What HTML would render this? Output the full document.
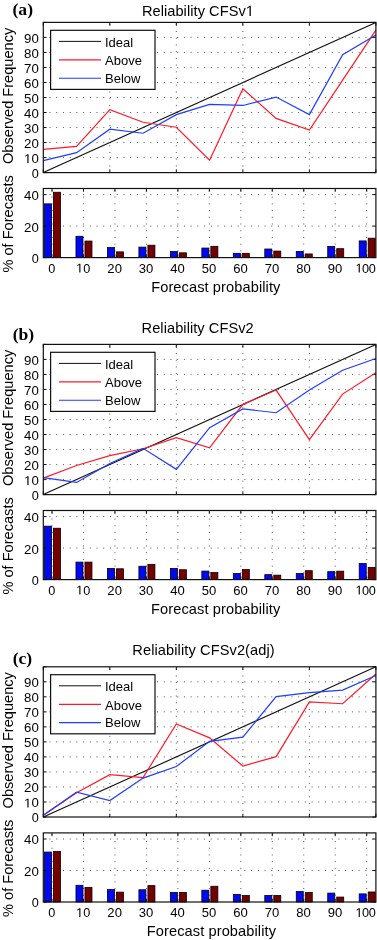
<!DOCTYPE html>
<html><head><meta charset="utf-8"><style>
html,body{margin:0;padding:0;background:#fff;}
svg{display:block;will-change:transform;}
text{font-family:"Liberation Sans",sans-serif;fill:#000;}
.o{fill:transparent;}
.pl{font-family:"Liberation Serif",serif;font-weight:bold;}
</style></head><body>
<svg width="377" height="940" viewBox="0 0 377 940">
<rect width="377" height="940" fill="#fff"/>
<text x="12.53" y="15.3" class="pl" font-size="17.6">(a)</text>
<text id="t1" x="141.9" y="15.9" font-size="14.6" letter-spacing="0.06">Reliability CFSv<tspan class="o">1</tspan></text>
<path d="M43.3 157.58H375.9 M43.3 142.56H375.9 M43.3 127.54H375.9 M43.3 112.52H375.9 M43.3 97.5H375.9 M43.3 82.48H375.9 M43.3 67.46H375.9 M43.3 52.44H375.9 M43.3 37.42H375.9 M109.82 172.6V22.4 M176.34 172.6V22.4 M242.86 172.6V22.4 M309.38 172.6V22.4" stroke="#555" stroke-width="1.0" stroke-dasharray="1 5.72" stroke-dashoffset="0.5" fill="none"/>
<path d="M43.3 172.6h3.3M375.9 172.6h-3.3M43.3 157.58h3.3M375.9 157.58h-3.3M43.3 142.56h3.3M375.9 142.56h-3.3M43.3 127.54h3.3M375.9 127.54h-3.3M43.3 112.52h3.3M375.9 112.52h-3.3M43.3 97.5h3.3M375.9 97.5h-3.3M43.3 82.48h3.3M375.9 82.48h-3.3M43.3 67.46h3.3M375.9 67.46h-3.3M43.3 52.44h3.3M375.9 52.44h-3.3M43.3 37.42h3.3M375.9 37.42h-3.3M43.3 22.4h3.3M375.9 22.4h-3.3M43.3 172.6v-3.3M43.3 22.4v3.3M109.82 172.6v-3.3M109.82 22.4v3.3M176.34 172.6v-3.3M176.34 22.4v3.3M242.86 172.6v-3.3M242.86 22.4v3.3M309.38 172.6v-3.3M309.38 22.4v3.3M375.9 172.6v-3.3M375.9 22.4v3.3" stroke="#111" stroke-width="1" fill="none"/>
<polyline points="43.3,172.6 375.9,22.4" stroke="#111" stroke-width="1.15" fill="none"/>
<polyline points="43.3,149.32 76.56,146.31 109.82,109.67 143.08,122.28 176.34,127.24 209.6,160.13 242.86,88.79 276.12,118.38 309.38,130.09 342.64,80.08 375.9,30.06" stroke="#ff1a2a" stroke-width="1.2" fill="none" stroke-linejoin="miter"/>
<polyline points="43.3,160.58 76.56,152.62 109.82,129.19 143.08,133.25 176.34,114.62 209.6,104.41 242.86,105.46 276.12,97.05 309.38,114.62 342.64,54.69 375.9,35.02" stroke="#1f3dff" stroke-width="1.2" fill="none"/>
<rect x="43.3" y="22.4" width="332.6" height="150.2" fill="none" stroke="#111" stroke-width="1.2"/>
<text x="38.8" y="178" font-size="12.7" text-anchor="end">0</text>
<text id="t2" x="24.04" y="162.98" font-size="12.7" textLength="14.76" lengthAdjust="spacingAndGlyphs"><tspan class="o">1</tspan>0</text>
<text x="24.04" y="147.96" font-size="12.7" textLength="14.76" lengthAdjust="spacingAndGlyphs">20</text>
<text x="24.04" y="132.94" font-size="12.7" textLength="14.76" lengthAdjust="spacingAndGlyphs">30</text>
<text x="24.04" y="117.92" font-size="12.7" textLength="14.76" lengthAdjust="spacingAndGlyphs">40</text>
<text x="24.04" y="102.9" font-size="12.7" textLength="14.76" lengthAdjust="spacingAndGlyphs">50</text>
<text x="24.04" y="87.88" font-size="12.7" textLength="14.76" lengthAdjust="spacingAndGlyphs">60</text>
<text x="24.04" y="72.86" font-size="12.7" textLength="14.76" lengthAdjust="spacingAndGlyphs">70</text>
<text x="24.04" y="57.84" font-size="12.7" textLength="14.76" lengthAdjust="spacingAndGlyphs">80</text>
<text x="24.04" y="42.82" font-size="12.7" textLength="14.76" lengthAdjust="spacingAndGlyphs">90</text>
<rect x="50.6" y="30.3" width="104.4" height="59.1" fill="#fff" stroke="#111" stroke-width="1.2"/>
<path d="M59 41.4H101" stroke="#111" stroke-width="1.0"/>
<text x="105" y="46.7" font-size="13.0">Ideal</text>
<path d="M59 59.9H101" stroke="#ff1a2a" stroke-width="1.3"/>
<text x="105" y="65.2" font-size="13.0">Above</text>
<path d="M59 78.2H101" stroke="#1f3dff" stroke-width="1.1"/>
<text x="105" y="83" font-size="13.0">Below</text>
<text transform="translate(12.8 95.85) rotate(-90)" text-anchor="middle" font-size="14.6">Observed Frequency</text>
<path d="M43.3 226.1H375.9 M43.3 194.6H375.9 M52 257.6V188.5 M83.47 257.6V188.5 M114.94 257.6V188.5 M146.41 257.6V188.5 M177.88 257.6V188.5 M209.35 257.6V188.5 M240.82 257.6V188.5 M272.29 257.6V188.5 M303.76 257.6V188.5 M335.23 257.6V188.5 M366.7 257.6V188.5" stroke="#555" stroke-width="1.0" stroke-dasharray="1 5.72" stroke-dashoffset="0.5" fill="none"/>
<rect x="44.5" y="203.86" width="7" height="53.74" fill="#0008f5" stroke="#000" stroke-width="0.8"/>
<rect x="53.5" y="192.25" width="7" height="65.35" fill="#760000" stroke="#000" stroke-width="0.8"/>
<rect x="75.97" y="236.29" width="7" height="21.31" fill="#0008f5" stroke="#000" stroke-width="0.8"/>
<rect x="84.97" y="241.06" width="7" height="16.54" fill="#760000" stroke="#000" stroke-width="0.8"/>
<rect x="107.44" y="247.58" width="7" height="10.02" fill="#0008f5" stroke="#000" stroke-width="0.8"/>
<rect x="116.44" y="251.88" width="7" height="5.72" fill="#760000" stroke="#000" stroke-width="0.8"/>
<rect x="138.91" y="247.11" width="7" height="10.49" fill="#0008f5" stroke="#000" stroke-width="0.8"/>
<rect x="147.91" y="245.2" width="7" height="12.4" fill="#760000" stroke="#000" stroke-width="0.8"/>
<rect x="170.38" y="251.56" width="7" height="6.04" fill="#0008f5" stroke="#000" stroke-width="0.8"/>
<rect x="179.38" y="252.83" width="7" height="4.77" fill="#760000" stroke="#000" stroke-width="0.8"/>
<rect x="201.85" y="248.06" width="7" height="9.54" fill="#0008f5" stroke="#000" stroke-width="0.8"/>
<rect x="210.85" y="246.31" width="7" height="11.29" fill="#760000" stroke="#000" stroke-width="0.8"/>
<rect x="233.32" y="253.31" width="7" height="4.29" fill="#0008f5" stroke="#000" stroke-width="0.8"/>
<rect x="242.32" y="253.31" width="7" height="4.29" fill="#760000" stroke="#000" stroke-width="0.8"/>
<rect x="264.79" y="249.01" width="7" height="8.59" fill="#0008f5" stroke="#000" stroke-width="0.8"/>
<rect x="273.79" y="251.08" width="7" height="6.52" fill="#760000" stroke="#000" stroke-width="0.8"/>
<rect x="296.26" y="251.4" width="7" height="6.2" fill="#0008f5" stroke="#000" stroke-width="0.8"/>
<rect x="305.26" y="253.94" width="7" height="3.66" fill="#760000" stroke="#000" stroke-width="0.8"/>
<rect x="327.73" y="246.47" width="7" height="11.13" fill="#0008f5" stroke="#000" stroke-width="0.8"/>
<rect x="336.73" y="248.7" width="7" height="8.9" fill="#760000" stroke="#000" stroke-width="0.8"/>
<rect x="359.2" y="240.91" width="7" height="16.69" fill="#0008f5" stroke="#000" stroke-width="0.8"/>
<rect x="368.2" y="238.2" width="7" height="19.4" fill="#760000" stroke="#000" stroke-width="0.8"/>
<path d="M52 257.6v-3.3M52 188.5v3.3M83.47 257.6v-3.3M83.47 188.5v3.3M114.94 257.6v-3.3M114.94 188.5v3.3M146.41 257.6v-3.3M146.41 188.5v3.3M177.88 257.6v-3.3M177.88 188.5v3.3M209.35 257.6v-3.3M209.35 188.5v3.3M240.82 257.6v-3.3M240.82 188.5v3.3M272.29 257.6v-3.3M272.29 188.5v3.3M303.76 257.6v-3.3M303.76 188.5v3.3M335.23 257.6v-3.3M335.23 188.5v3.3M366.7 257.6v-3.3M366.7 188.5v3.3M43.3 257.6h3.3M375.9 257.6h-3.3M43.3 226.1h3.3M375.9 226.1h-3.3M43.3 194.6h3.3M375.9 194.6h-3.3" stroke="#111" stroke-width="1" fill="none"/>
<rect x="43.3" y="188.5" width="332.6" height="69.1" fill="none" stroke="#111" stroke-width="1.2"/>
<text x="38.8" y="263" font-size="12.7" text-anchor="end">0</text>
<text x="24.04" y="231.5" font-size="12.7" textLength="14.76" lengthAdjust="spacingAndGlyphs">20</text>
<text x="24.04" y="200" font-size="12.7" textLength="14.76" lengthAdjust="spacingAndGlyphs">40</text>
<text x="51.7" y="272.5" font-size="12.7" text-anchor="middle">0</text>
<text id="t3" x="83.17" y="272.5" font-size="12.7" text-anchor="middle"><tspan class="o">1</tspan>0</text>
<text x="107.36" y="272.5" font-size="12.7" textLength="14.55" lengthAdjust="spacingAndGlyphs">20</text>
<text x="138.83" y="272.5" font-size="12.7" textLength="14.55" lengthAdjust="spacingAndGlyphs">30</text>
<text x="170.3" y="272.5" font-size="12.7" textLength="14.55" lengthAdjust="spacingAndGlyphs">40</text>
<text x="201.77" y="272.5" font-size="12.7" textLength="14.55" lengthAdjust="spacingAndGlyphs">50</text>
<text x="233.24" y="272.5" font-size="12.7" textLength="14.55" lengthAdjust="spacingAndGlyphs">60</text>
<text x="264.71" y="272.5" font-size="12.7" textLength="14.55" lengthAdjust="spacingAndGlyphs">70</text>
<text x="296.18" y="272.5" font-size="12.7" textLength="14.55" lengthAdjust="spacingAndGlyphs">80</text>
<text x="327.65" y="272.5" font-size="12.7" textLength="14.55" lengthAdjust="spacingAndGlyphs">90</text>
<text id="t4" x="365.4" y="272.5" font-size="12.7" text-anchor="middle" letter-spacing="-0.45"><tspan class="o">1</tspan>00</text>
<text transform="translate(12.8 223.9) rotate(-90)" text-anchor="middle" font-size="14.6">% of Forecasts</text>
<text x="151.2" y="291.9" font-size="14.6" letter-spacing="0.095">Forecast probability</text>
<text x="12.63" y="339.5" class="pl" font-size="17.6">(b)</text>
<text x="141.6" y="333.3" font-size="14.6" letter-spacing="0.06">Reliability CFSv2</text>
<path d="M43.3 479.58H375.9 M43.3 464.56H375.9 M43.3 449.54H375.9 M43.3 434.52H375.9 M43.3 419.5H375.9 M43.3 404.48H375.9 M43.3 389.46H375.9 M43.3 374.44H375.9 M43.3 359.42H375.9 M109.82 494.6V344.4 M176.34 494.6V344.4 M242.86 494.6V344.4 M309.38 494.6V344.4" stroke="#555" stroke-width="1.0" stroke-dasharray="1 5.72" stroke-dashoffset="0.5" fill="none"/>
<path d="M43.3 494.6h3.3M375.9 494.6h-3.3M43.3 479.58h3.3M375.9 479.58h-3.3M43.3 464.56h3.3M375.9 464.56h-3.3M43.3 449.54h3.3M375.9 449.54h-3.3M43.3 434.52h3.3M375.9 434.52h-3.3M43.3 419.5h3.3M375.9 419.5h-3.3M43.3 404.48h3.3M375.9 404.48h-3.3M43.3 389.46h3.3M375.9 389.46h-3.3M43.3 374.44h3.3M375.9 374.44h-3.3M43.3 359.42h3.3M375.9 359.42h-3.3M43.3 344.4h3.3M375.9 344.4h-3.3M43.3 494.6v-3.3M43.3 344.4v3.3M109.82 494.6v-3.3M109.82 344.4v3.3M176.34 494.6v-3.3M176.34 344.4v3.3M242.86 494.6v-3.3M242.86 344.4v3.3M309.38 494.6v-3.3M309.38 344.4v3.3M375.9 494.6v-3.3M375.9 344.4v3.3" stroke="#111" stroke-width="1" fill="none"/>
<polyline points="43.3,494.6 375.9,344.4" stroke="#111" stroke-width="1.15" fill="none"/>
<polyline points="43.3,478.08 76.56,465.46 109.82,455.55 143.08,448.79 176.34,437.67 209.6,447.74 242.86,404.33 276.12,390.06 309.38,439.63 342.64,394.12 375.9,372.64" stroke="#ff1a2a" stroke-width="1.2" fill="none" stroke-linejoin="miter"/>
<polyline points="43.3,477.63 76.56,482.43 109.82,463.51 143.08,448.34 176.34,469.37 209.6,427.61 242.86,408.99 276.12,412.74 309.38,390.06 342.64,370.23 375.9,358.52" stroke="#1f3dff" stroke-width="1.2" fill="none"/>
<rect x="43.3" y="344.4" width="332.6" height="150.2" fill="none" stroke="#111" stroke-width="1.2"/>
<text x="38.8" y="500" font-size="12.7" text-anchor="end">0</text>
<text id="t5" x="24.04" y="484.98" font-size="12.7" textLength="14.76" lengthAdjust="spacingAndGlyphs"><tspan class="o">1</tspan>0</text>
<text x="24.04" y="469.96" font-size="12.7" textLength="14.76" lengthAdjust="spacingAndGlyphs">20</text>
<text x="24.04" y="454.94" font-size="12.7" textLength="14.76" lengthAdjust="spacingAndGlyphs">30</text>
<text x="24.04" y="439.92" font-size="12.7" textLength="14.76" lengthAdjust="spacingAndGlyphs">40</text>
<text x="24.04" y="424.9" font-size="12.7" textLength="14.76" lengthAdjust="spacingAndGlyphs">50</text>
<text x="24.04" y="409.88" font-size="12.7" textLength="14.76" lengthAdjust="spacingAndGlyphs">60</text>
<text x="24.04" y="394.86" font-size="12.7" textLength="14.76" lengthAdjust="spacingAndGlyphs">70</text>
<text x="24.04" y="379.84" font-size="12.7" textLength="14.76" lengthAdjust="spacingAndGlyphs">80</text>
<text x="24.04" y="364.82" font-size="12.7" textLength="14.76" lengthAdjust="spacingAndGlyphs">90</text>
<rect x="50.6" y="352.3" width="104.4" height="59.1" fill="#fff" stroke="#111" stroke-width="1.2"/>
<path d="M59 363.4H101" stroke="#111" stroke-width="1.0"/>
<text x="105" y="368.7" font-size="13.0">Ideal</text>
<path d="M59 381.9H101" stroke="#ff1a2a" stroke-width="1.3"/>
<text x="105" y="387.2" font-size="13.0">Above</text>
<path d="M59 400.2H101" stroke="#1f3dff" stroke-width="1.1"/>
<text x="105" y="405" font-size="13.0">Below</text>
<text transform="translate(12.8 417.85) rotate(-90)" text-anchor="middle" font-size="14.6">Observed Frequency</text>
<path d="M43.3 548.1H375.9 M43.3 516.6H375.9 M52 579.6V510.5 M83.47 579.6V510.5 M114.94 579.6V510.5 M146.41 579.6V510.5 M177.88 579.6V510.5 M209.35 579.6V510.5 M240.82 579.6V510.5 M272.29 579.6V510.5 M303.76 579.6V510.5 M335.23 579.6V510.5 M366.7 579.6V510.5" stroke="#555" stroke-width="1.0" stroke-dasharray="1 5.72" stroke-dashoffset="0.5" fill="none"/>
<rect x="44.5" y="526.18" width="7" height="53.42" fill="#0008f5" stroke="#000" stroke-width="0.8"/>
<rect x="53.5" y="528.24" width="7" height="51.36" fill="#760000" stroke="#000" stroke-width="0.8"/>
<rect x="75.97" y="562.11" width="7" height="17.49" fill="#0008f5" stroke="#000" stroke-width="0.8"/>
<rect x="84.97" y="562.11" width="7" height="17.49" fill="#760000" stroke="#000" stroke-width="0.8"/>
<rect x="107.44" y="568.47" width="7" height="11.13" fill="#0008f5" stroke="#000" stroke-width="0.8"/>
<rect x="116.44" y="568.79" width="7" height="10.81" fill="#760000" stroke="#000" stroke-width="0.8"/>
<rect x="138.91" y="566.24" width="7" height="13.36" fill="#0008f5" stroke="#000" stroke-width="0.8"/>
<rect x="147.91" y="564.34" width="7" height="15.26" fill="#760000" stroke="#000" stroke-width="0.8"/>
<rect x="170.38" y="568.47" width="7" height="11.13" fill="#0008f5" stroke="#000" stroke-width="0.8"/>
<rect x="179.38" y="569.74" width="7" height="9.86" fill="#760000" stroke="#000" stroke-width="0.8"/>
<rect x="201.85" y="571.09" width="7" height="8.51" fill="#0008f5" stroke="#000" stroke-width="0.8"/>
<rect x="210.85" y="572.6" width="7" height="7" fill="#760000" stroke="#000" stroke-width="0.8"/>
<rect x="233.32" y="573.4" width="7" height="6.2" fill="#0008f5" stroke="#000" stroke-width="0.8"/>
<rect x="242.32" y="569.58" width="7" height="10.02" fill="#760000" stroke="#000" stroke-width="0.8"/>
<rect x="264.79" y="574.67" width="7" height="4.93" fill="#0008f5" stroke="#000" stroke-width="0.8"/>
<rect x="273.79" y="575.15" width="7" height="4.45" fill="#760000" stroke="#000" stroke-width="0.8"/>
<rect x="296.26" y="573.56" width="7" height="6.04" fill="#0008f5" stroke="#000" stroke-width="0.8"/>
<rect x="305.26" y="570.7" width="7" height="8.9" fill="#760000" stroke="#000" stroke-width="0.8"/>
<rect x="327.73" y="571.65" width="7" height="7.95" fill="#0008f5" stroke="#000" stroke-width="0.8"/>
<rect x="336.73" y="571.17" width="7" height="8.43" fill="#760000" stroke="#000" stroke-width="0.8"/>
<rect x="359.2" y="563.54" width="7" height="16.06" fill="#0008f5" stroke="#000" stroke-width="0.8"/>
<rect x="368.2" y="567.36" width="7" height="12.24" fill="#760000" stroke="#000" stroke-width="0.8"/>
<path d="M52 579.6v-3.3M52 510.5v3.3M83.47 579.6v-3.3M83.47 510.5v3.3M114.94 579.6v-3.3M114.94 510.5v3.3M146.41 579.6v-3.3M146.41 510.5v3.3M177.88 579.6v-3.3M177.88 510.5v3.3M209.35 579.6v-3.3M209.35 510.5v3.3M240.82 579.6v-3.3M240.82 510.5v3.3M272.29 579.6v-3.3M272.29 510.5v3.3M303.76 579.6v-3.3M303.76 510.5v3.3M335.23 579.6v-3.3M335.23 510.5v3.3M366.7 579.6v-3.3M366.7 510.5v3.3M43.3 579.6h3.3M375.9 579.6h-3.3M43.3 548.1h3.3M375.9 548.1h-3.3M43.3 516.6h3.3M375.9 516.6h-3.3" stroke="#111" stroke-width="1" fill="none"/>
<rect x="43.3" y="510.5" width="332.6" height="69.1" fill="none" stroke="#111" stroke-width="1.2"/>
<text x="38.8" y="585" font-size="12.7" text-anchor="end">0</text>
<text x="24.04" y="553.5" font-size="12.7" textLength="14.76" lengthAdjust="spacingAndGlyphs">20</text>
<text x="24.04" y="522" font-size="12.7" textLength="14.76" lengthAdjust="spacingAndGlyphs">40</text>
<text x="51.7" y="594.5" font-size="12.7" text-anchor="middle">0</text>
<text id="t6" x="83.17" y="594.5" font-size="12.7" text-anchor="middle"><tspan class="o">1</tspan>0</text>
<text x="107.36" y="594.5" font-size="12.7" textLength="14.55" lengthAdjust="spacingAndGlyphs">20</text>
<text x="138.83" y="594.5" font-size="12.7" textLength="14.55" lengthAdjust="spacingAndGlyphs">30</text>
<text x="170.3" y="594.5" font-size="12.7" textLength="14.55" lengthAdjust="spacingAndGlyphs">40</text>
<text x="201.77" y="594.5" font-size="12.7" textLength="14.55" lengthAdjust="spacingAndGlyphs">50</text>
<text x="233.24" y="594.5" font-size="12.7" textLength="14.55" lengthAdjust="spacingAndGlyphs">60</text>
<text x="264.71" y="594.5" font-size="12.7" textLength="14.55" lengthAdjust="spacingAndGlyphs">70</text>
<text x="296.18" y="594.5" font-size="12.7" textLength="14.55" lengthAdjust="spacingAndGlyphs">80</text>
<text x="327.65" y="594.5" font-size="12.7" textLength="14.55" lengthAdjust="spacingAndGlyphs">90</text>
<text id="t7" x="365.4" y="594.5" font-size="12.7" text-anchor="middle" letter-spacing="-0.45"><tspan class="o">1</tspan>00</text>
<text transform="translate(12.8 545.9) rotate(-90)" text-anchor="middle" font-size="14.6">% of Forecasts</text>
<text x="151.1" y="613.9" font-size="14.6" letter-spacing="0.095">Forecast probability</text>
<text x="12.63" y="663.9" class="pl" font-size="17.6">(c)</text>
<text x="132.3" y="655.3" font-size="14.6" letter-spacing="0.1">Reliability CFSv2(adj)</text>
<path d="M43.3 801.98H375.9 M43.3 786.96H375.9 M43.3 771.94H375.9 M43.3 756.92H375.9 M43.3 741.9H375.9 M43.3 726.88H375.9 M43.3 711.86H375.9 M43.3 696.84H375.9 M43.3 681.82H375.9 M109.82 817V666.8 M176.34 817V666.8 M242.86 817V666.8 M309.38 817V666.8" stroke="#555" stroke-width="1.0" stroke-dasharray="1 5.72" stroke-dashoffset="0.5" fill="none"/>
<path d="M43.3 817h3.3M375.9 817h-3.3M43.3 801.98h3.3M375.9 801.98h-3.3M43.3 786.96h3.3M375.9 786.96h-3.3M43.3 771.94h3.3M375.9 771.94h-3.3M43.3 756.92h3.3M375.9 756.92h-3.3M43.3 741.9h3.3M375.9 741.9h-3.3M43.3 726.88h3.3M375.9 726.88h-3.3M43.3 711.86h3.3M375.9 711.86h-3.3M43.3 696.84h3.3M375.9 696.84h-3.3M43.3 681.82h3.3M375.9 681.82h-3.3M43.3 666.8h3.3M375.9 666.8h-3.3M43.3 817v-3.3M43.3 666.8v3.3M109.82 817v-3.3M109.82 666.8v3.3M176.34 817v-3.3M176.34 666.8v3.3M242.86 817v-3.3M242.86 666.8v3.3M309.38 817v-3.3M309.38 666.8v3.3M375.9 817v-3.3M375.9 666.8v3.3" stroke="#111" stroke-width="1" fill="none"/>
<polyline points="43.3,817 375.9,666.8" stroke="#111" stroke-width="1.15" fill="none"/>
<polyline points="43.3,815.35 76.56,792.82 109.82,774.64 143.08,777.5 176.34,724.03 209.6,737.84 242.86,766.08 276.12,756.62 309.38,701.95 342.64,703.75 375.9,674.01" stroke="#ff1a2a" stroke-width="1.2" fill="none" stroke-linejoin="miter"/>
<polyline points="43.3,815.35 76.56,792.22 109.82,800.48 143.08,778.1 176.34,766.53 209.6,741.3 242.86,737.09 276.12,696.69 309.38,692.63 342.64,690.08 375.9,675.51" stroke="#1f3dff" stroke-width="1.2" fill="none"/>
<rect x="43.3" y="666.8" width="332.6" height="150.2" fill="none" stroke="#111" stroke-width="1.2"/>
<text x="38.8" y="822.4" font-size="12.7" text-anchor="end">0</text>
<text id="t8" x="24.04" y="807.38" font-size="12.7" textLength="14.76" lengthAdjust="spacingAndGlyphs"><tspan class="o">1</tspan>0</text>
<text x="24.04" y="792.36" font-size="12.7" textLength="14.76" lengthAdjust="spacingAndGlyphs">20</text>
<text x="24.04" y="777.34" font-size="12.7" textLength="14.76" lengthAdjust="spacingAndGlyphs">30</text>
<text x="24.04" y="762.32" font-size="12.7" textLength="14.76" lengthAdjust="spacingAndGlyphs">40</text>
<text x="24.04" y="747.3" font-size="12.7" textLength="14.76" lengthAdjust="spacingAndGlyphs">50</text>
<text x="24.04" y="732.28" font-size="12.7" textLength="14.76" lengthAdjust="spacingAndGlyphs">60</text>
<text x="24.04" y="717.26" font-size="12.7" textLength="14.76" lengthAdjust="spacingAndGlyphs">70</text>
<text x="24.04" y="702.24" font-size="12.7" textLength="14.76" lengthAdjust="spacingAndGlyphs">80</text>
<text x="24.04" y="687.22" font-size="12.7" textLength="14.76" lengthAdjust="spacingAndGlyphs">90</text>
<rect x="50.6" y="674.7" width="104.4" height="59.1" fill="#fff" stroke="#111" stroke-width="1.2"/>
<path d="M59 685.8H101" stroke="#111" stroke-width="1.0"/>
<text x="105" y="691.1" font-size="13.0">Ideal</text>
<path d="M59 704.3H101" stroke="#ff1a2a" stroke-width="1.3"/>
<text x="105" y="709.6" font-size="13.0">Above</text>
<path d="M59 722.6H101" stroke="#1f3dff" stroke-width="1.1"/>
<text x="105" y="727.4" font-size="13.0">Below</text>
<text transform="translate(12.8 740.25) rotate(-90)" text-anchor="middle" font-size="14.6">Observed Frequency</text>
<path d="M43.3 870.5H375.9 M43.3 839H375.9 M52 902V832.9 M83.47 902V832.9 M114.94 902V832.9 M146.41 902V832.9 M177.88 902V832.9 M209.35 902V832.9 M240.82 902V832.9 M272.29 902V832.9 M303.76 902V832.9 M335.23 902V832.9 M366.7 902V832.9" stroke="#555" stroke-width="1.0" stroke-dasharray="1 5.72" stroke-dashoffset="0.5" fill="none"/>
<rect x="44.5" y="852.07" width="7" height="49.93" fill="#0008f5" stroke="#000" stroke-width="0.8"/>
<rect x="53.5" y="851.44" width="7" height="50.56" fill="#760000" stroke="#000" stroke-width="0.8"/>
<rect x="75.97" y="885.3" width="7" height="16.7" fill="#0008f5" stroke="#000" stroke-width="0.8"/>
<rect x="84.97" y="887.37" width="7" height="14.63" fill="#760000" stroke="#000" stroke-width="0.8"/>
<rect x="107.44" y="889.6" width="7" height="12.4" fill="#0008f5" stroke="#000" stroke-width="0.8"/>
<rect x="116.44" y="892.14" width="7" height="9.86" fill="#760000" stroke="#000" stroke-width="0.8"/>
<rect x="138.91" y="889.76" width="7" height="12.24" fill="#0008f5" stroke="#000" stroke-width="0.8"/>
<rect x="147.91" y="885.62" width="7" height="16.38" fill="#760000" stroke="#000" stroke-width="0.8"/>
<rect x="170.38" y="892.46" width="7" height="9.54" fill="#0008f5" stroke="#000" stroke-width="0.8"/>
<rect x="179.38" y="892.46" width="7" height="9.54" fill="#760000" stroke="#000" stroke-width="0.8"/>
<rect x="201.85" y="890.23" width="7" height="11.77" fill="#0008f5" stroke="#000" stroke-width="0.8"/>
<rect x="210.85" y="886.26" width="7" height="15.74" fill="#760000" stroke="#000" stroke-width="0.8"/>
<rect x="233.32" y="894.37" width="7" height="7.63" fill="#0008f5" stroke="#000" stroke-width="0.8"/>
<rect x="242.32" y="895.48" width="7" height="6.52" fill="#760000" stroke="#000" stroke-width="0.8"/>
<rect x="264.79" y="895.48" width="7" height="6.52" fill="#0008f5" stroke="#000" stroke-width="0.8"/>
<rect x="273.79" y="895.48" width="7" height="6.52" fill="#760000" stroke="#000" stroke-width="0.8"/>
<rect x="296.26" y="891.51" width="7" height="10.49" fill="#0008f5" stroke="#000" stroke-width="0.8"/>
<rect x="305.26" y="892.46" width="7" height="9.54" fill="#760000" stroke="#000" stroke-width="0.8"/>
<rect x="327.73" y="893.1" width="7" height="8.9" fill="#0008f5" stroke="#000" stroke-width="0.8"/>
<rect x="336.73" y="897.07" width="7" height="4.93" fill="#760000" stroke="#000" stroke-width="0.8"/>
<rect x="359.2" y="893.89" width="7" height="8.11" fill="#0008f5" stroke="#000" stroke-width="0.8"/>
<rect x="368.2" y="891.98" width="7" height="10.02" fill="#760000" stroke="#000" stroke-width="0.8"/>
<path d="M52 902v-3.3M52 832.9v3.3M83.47 902v-3.3M83.47 832.9v3.3M114.94 902v-3.3M114.94 832.9v3.3M146.41 902v-3.3M146.41 832.9v3.3M177.88 902v-3.3M177.88 832.9v3.3M209.35 902v-3.3M209.35 832.9v3.3M240.82 902v-3.3M240.82 832.9v3.3M272.29 902v-3.3M272.29 832.9v3.3M303.76 902v-3.3M303.76 832.9v3.3M335.23 902v-3.3M335.23 832.9v3.3M366.7 902v-3.3M366.7 832.9v3.3M43.3 902h3.3M375.9 902h-3.3M43.3 870.5h3.3M375.9 870.5h-3.3M43.3 839h3.3M375.9 839h-3.3" stroke="#111" stroke-width="1" fill="none"/>
<rect x="43.3" y="832.9" width="332.6" height="69.1" fill="none" stroke="#111" stroke-width="1.2"/>
<text x="38.8" y="907.4" font-size="12.7" text-anchor="end">0</text>
<text x="24.04" y="875.9" font-size="12.7" textLength="14.76" lengthAdjust="spacingAndGlyphs">20</text>
<text x="24.04" y="844.4" font-size="12.7" textLength="14.76" lengthAdjust="spacingAndGlyphs">40</text>
<text x="51.7" y="916.9" font-size="12.7" text-anchor="middle">0</text>
<text id="t9" x="83.17" y="916.9" font-size="12.7" text-anchor="middle"><tspan class="o">1</tspan>0</text>
<text x="107.36" y="916.9" font-size="12.7" textLength="14.55" lengthAdjust="spacingAndGlyphs">20</text>
<text x="138.83" y="916.9" font-size="12.7" textLength="14.55" lengthAdjust="spacingAndGlyphs">30</text>
<text x="170.3" y="916.9" font-size="12.7" textLength="14.55" lengthAdjust="spacingAndGlyphs">40</text>
<text x="201.77" y="916.9" font-size="12.7" textLength="14.55" lengthAdjust="spacingAndGlyphs">50</text>
<text x="233.24" y="916.9" font-size="12.7" textLength="14.55" lengthAdjust="spacingAndGlyphs">60</text>
<text x="264.71" y="916.9" font-size="12.7" textLength="14.55" lengthAdjust="spacingAndGlyphs">70</text>
<text x="296.18" y="916.9" font-size="12.7" textLength="14.55" lengthAdjust="spacingAndGlyphs">80</text>
<text x="327.65" y="916.9" font-size="12.7" textLength="14.55" lengthAdjust="spacingAndGlyphs">90</text>
<text id="t10" x="365.4" y="916.9" font-size="12.7" text-anchor="middle" letter-spacing="-0.45"><tspan class="o">1</tspan>00</text>
<text transform="translate(12.8 868.3) rotate(-90)" text-anchor="middle" font-size="14.6">% of Forecasts</text>
<text x="146.8" y="936.3" font-size="14.6" letter-spacing="0.095">Forecast probability</text>
<path d="M515 0L515 1237L197 1010L197 1180L530 1409L696 1409L696 0Z" transform="matrix(0.00713 0 0 -0.00713 245.85 15.90)"/>
<path d="M515 0L515 1237L197 1010L197 1180L530 1409L696 1409L696 0Z" transform="matrix(0.00648 0 0 -0.00620 24.04 162.98)"/>
<path d="M515 0L515 1237L197 1010L197 1180L530 1409L696 1409L696 0Z" transform="matrix(0.00620 0 0 -0.00620 76.11 272.50)"/>
<path d="M515 0L515 1237L197 1010L197 1180L530 1409L696 1409L696 0Z" transform="matrix(0.00620 0 0 -0.00620 355.49 272.50)"/>
<path d="M515 0L515 1237L197 1010L197 1180L530 1409L696 1409L696 0Z" transform="matrix(0.00648 0 0 -0.00620 24.04 484.98)"/>
<path d="M515 0L515 1237L197 1010L197 1180L530 1409L696 1409L696 0Z" transform="matrix(0.00620 0 0 -0.00620 76.11 594.50)"/>
<path d="M515 0L515 1237L197 1010L197 1180L530 1409L696 1409L696 0Z" transform="matrix(0.00620 0 0 -0.00620 355.49 594.50)"/>
<path d="M515 0L515 1237L197 1010L197 1180L530 1409L696 1409L696 0Z" transform="matrix(0.00648 0 0 -0.00620 24.04 807.38)"/>
<path d="M515 0L515 1237L197 1010L197 1180L530 1409L696 1409L696 0Z" transform="matrix(0.00620 0 0 -0.00620 76.11 916.90)"/>
<path d="M515 0L515 1237L197 1010L197 1180L530 1409L696 1409L696 0Z" transform="matrix(0.00620 0 0 -0.00620 355.49 916.90)"/>
</svg>
</body></html>
